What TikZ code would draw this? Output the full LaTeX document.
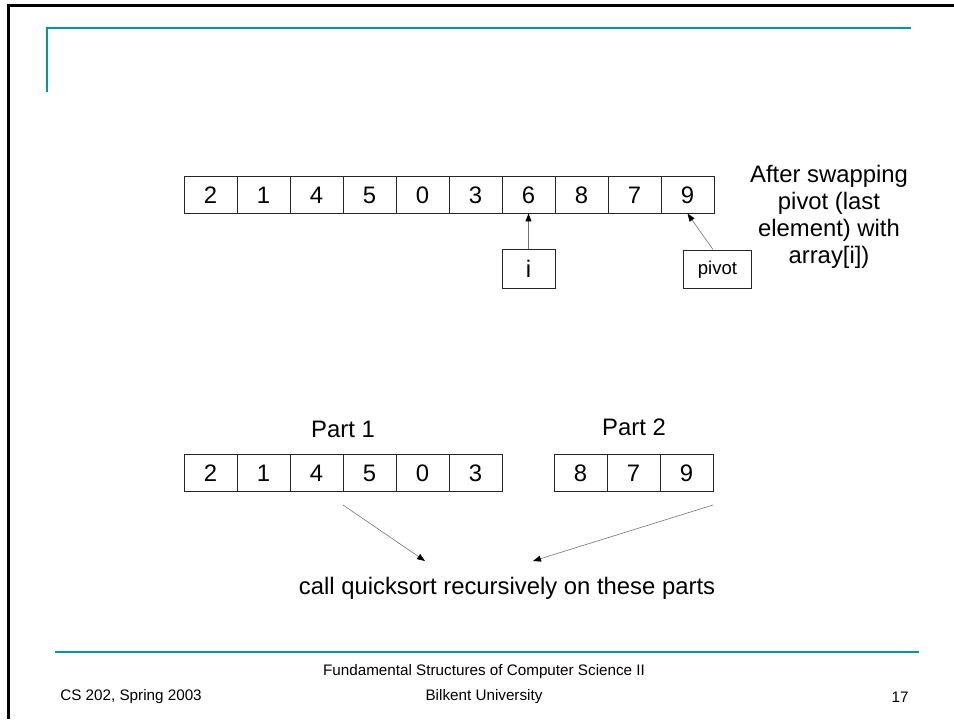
\documentclass[tikz,border=0pt]{standalone}
\usepackage{fontspec}
\setmainfont{Liberation Sans}
\usetikzlibrary{arrows.meta}
\definecolor{slideteal}{RGB}{0,153,153}
\tikzset{
  cell/.style={draw=black!85, line width=0.75pt, minimum width=40pt,
    minimum height=27.2pt, inner sep=0pt, font=\fontsize{18}{21}\selectfont},
  tagbox/.style={draw=black!85, line width=0.75pt, inner sep=0pt},
  ptr/.style={draw=black!55, line width=0.45pt,
    -{Triangle[length=6pt,width=4.5pt,color=black]}},
  rule/.style={draw=slideteal, line width=1.6pt},
  foot/.style={font=\fontsize{11.5}{13}\selectfont, inner sep=0pt},
  big/.style={font=\fontsize{18}{20.4}\selectfont, inner sep=0pt}
}
\begin{document}
\begin{tikzpicture}[x=0.7547pt,y=-0.7547pt]
\useasboundingbox (0,0) rectangle (954,719);
% slide frame
\draw[line width=2.3pt, line join=miter] (954,5.3) -- (8.3,5.3) -- (8.3,719);
% title rules
\draw[rule] (47,92) -- (47,28) -- (911,28);
\draw[rule] (55,652) -- (919,652);

% array after the swap
\foreach \v [count=\k from 0] in {2,1,4,5,0,3,6,8,7,9}
  \node[cell] (t\k) at ({210.5+53*\k},195) {\v};
\node[tagbox, minimum width=40pt, minimum height=28.7pt,
  font=\fontsize{18}{21}\selectfont] (ibox) at (528.5,269) {i};
\node[tagbox, minimum width=52pt, minimum height=29.4pt,
  font=\fontsize{14}{16}\selectfont] (pbox) at (717.5,269.5) {pivot};
\draw[ptr] (ibox.north) -- (t6.south);
\draw[ptr] ([xshift=-3.4pt]pbox.north) -- (t9.south);
\node[big, align=center] (note) at (829,216.5)
  {After swapping\\pivot (last\\element) with\\array[i])};

% the two parts
\foreach \v [count=\k from 0] in {2,1,4,5,0,3}
  \node[cell] (p\k) at ({210.5+53*\k},473) {\v};
\foreach \v [count=\k from 0] in {8,7,9}
  \node[cell] (q\k) at ({580.5+53*\k},473) {\v};
\node[big] (part1) at (343,429) {Part 1};
\node[big] (part2) at (634,427) {Part 2};
\node[big] (call) at (507,588) {call quicksort recursively on these parts};
\coordinate (s1) at (343,505);
\coordinate (e1) at (425,561);
\coordinate (s2) at (713,505);
\coordinate (e2) at (533,561);
\draw[ptr] (s1) -- (e1);
\draw[ptr] (s2) -- (e2);

% footer
\node[foot, anchor=west] (course) at (60,697) {CS 202, Spring 2003};
\node[foot] (title1) at (484,672) {Fundamental Structures of Computer Science II};
\node[foot] (title2) at (484,697) {Bilkent University};
\node[foot] (page) at (900,697) {17};
\end{tikzpicture}
\end{document}
